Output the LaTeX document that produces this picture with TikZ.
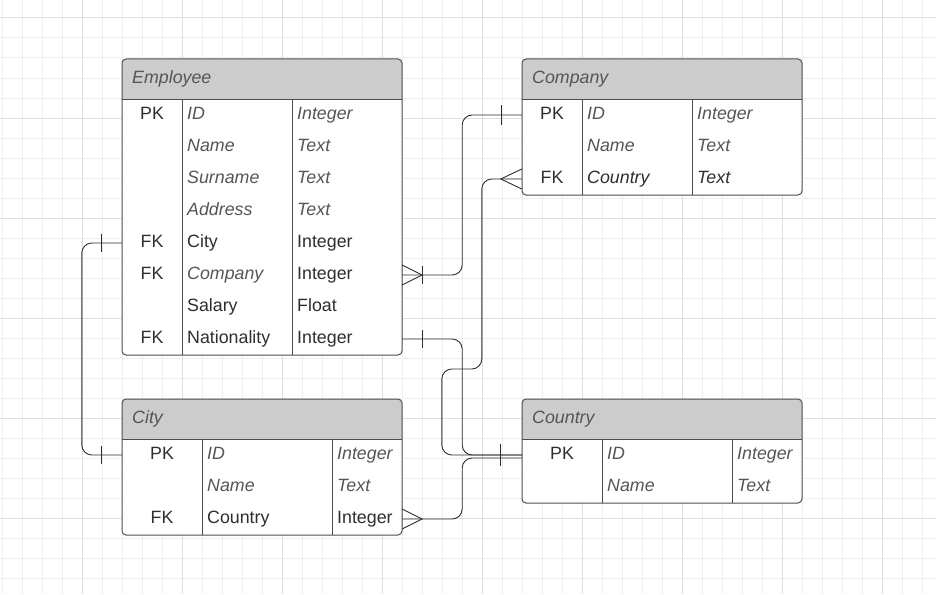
\documentclass[tikz,border=0pt]{standalone}
\usepackage{fontspec}
\setmainfont{Liberation Sans}
\usetikzlibrary{calc}

\definecolor{gridminor}{HTML}{EEEEEE}
\definecolor{gridmajor}{HTML}{DEDEDE}
\definecolor{hdrgray}{HTML}{CCCCCC}
\definecolor{boxgray}{HTML}{4D4D4D}
\definecolor{txtdark}{HTML}{2E2E2E}
\definecolor{txtgray}{HTML}{555555}

\newcommand\cellfont{\fontsize{17.8}{21}\selectfont}
\newcommand\ita[1]{\textcolor{txtgray}{\itshape #1}}
\newcommand\itd[1]{{\itshape #1}}

% one entity table: name, x, y, rows, divider 1, divider 2, title, rows
\newcommand\erdtable[8]{%
  \begin{scope}[shift={(#2,#3)}]
    \fill[white,rounded corners=4] (0,0) rectangle (280,{40+32*#4});
    \begin{scope}
      \clip[rounded corners=4] (0,0) rectangle (280,{40+32*#4});
      \fill[hdrgray] (0,0) rectangle (280,40);
    \end{scope}
    \draw[boxline,rounded corners=4] (0,0) rectangle (280,{40+32*#4});
    \draw[boxline] (0,40) -- (280,40) (#5,40) -- (#5,{40+32*#4}) (#6,40) -- (#6,{40+32*#4});
    \node[cell,anchor=base west,text=txtgray,font=\cellfont\itshape] (#1h) at (10,24.5) {#7};
    \foreach \k/\f/\t [count=\i] in {#8} {
      \node[rowbox] (#1\i) at (140,{24+32*\i}) {};
      \node[cell,anchor=base] (#1k\i) at ({#5/2},{28.5+32*\i}) {\k};
      \node[cell,anchor=base west] (#1f\i) at ({#5+5},{28.5+32*\i}) {\f};
      \node[cell,anchor=base west] (#1t\i) at ({#6+5},{28.5+32*\i}) {\t};
    }
  \end{scope}}

% cardinality marks
\newcommand\onebar[3]{\draw[conn] ($(#1)+(#2,-#3)$) -- ($(#1)+(#2,#3)$);}
\newcommand\crowfoot[2]{\draw[conn] ($(#1)+(0,-10)$) -- ($(#1)+(#2,0)$) -- ($(#1)+(0,10)$);}

\begin{document}
\begin{tikzpicture}[x=1pt,y=-1pt,
    boxline/.style={draw=boxgray,line width=1pt},
    conn/.style={draw=txtdark,line width=0.9pt},
    link/.style={conn,rounded corners=10},
    cell/.style={inner sep=0pt,text=txtdark,font=\cellfont},
    rowbox/.style={minimum width=280pt,minimum height=32pt,inner sep=0pt}]
  \useasboundingbox (0,0) rectangle (936,594);
  \fill[white] (0,0) rectangle (936,594);
  % canvas grid
  \foreach \x in {2,22,...,922} \draw[gridminor,line width=1pt] (\x,0) -- (\x,594);
  \foreach \y in {18,38,...,578} \draw[gridminor,line width=1pt] (0,\y) -- (936,\y);
  \foreach \x in {82,182,...,882} \draw[gridmajor,line width=1pt] (\x,0) -- (\x,594);
  \foreach \y in {18,118,...,518} \draw[gridmajor,line width=1pt] (0,\y) -- (936,\y);

  % tables
  \erdtable{emp}{122}{59}{8}{60}{170}{Employee}{%
    PK/\ita{ID}/\ita{Integer}, /\ita{Name}/\ita{Text}, /\ita{Surname}/\ita{Text},
    /\ita{Address}/\ita{Text}, FK/City/Integer, FK/\ita{Company}/Integer,
    /Salary/Float, FK/Nationality/Integer}
  \erdtable{comp}{522}{59}{3}{60}{170}{Company}{%
    PK/\ita{ID}/\ita{Integer}, /\ita{Name}/\ita{Text}, FK/\itd{Country}/\itd{Text}}
  \erdtable{city}{122}{399}{3}{80}{210}{City}{%
    PK/\ita{ID}/\ita{Integer}, /\ita{Name}/\ita{Text}, FK/Country/Integer}
  \erdtable{ctry}{522}{399}{2}{80}{210}{Country}{%
    PK/\ita{ID}/\ita{Integer}, /\ita{Name}/\ita{Text}}

  % relations
  \draw[link] (emp5.west) -- ++(-40,0) |- (city1.west);
  \onebar{emp5.west}{-20}{9}
  \onebar{city1.west}{-20}{9}
  \draw[link] (emp6.east) -- ++(60,0) |- (comp1.west);
  \crowfoot{emp6.east}{20}
  \onebar{emp6.east}{20}{9}
  \onebar{comp1.west}{-20}{10}
  \draw[link] (comp3.west) -- ++(-40,0) -- ++(0,190) -- ++(-40,0) |- (ctry1.west);
  \crowfoot{comp3.west}{-21}
  \draw[link] (emp8.east) -- ++(60,0) |- (ctry1.west);
  \onebar{emp8.east}{20}{9}
  \draw[link] (city3.east) -- ++(60,0) |- ($(ctry1.west)+(0,3)$);
  \crowfoot{city3.east}{20}
  \onebar{ctry1.west}{-21}{11}
\end{tikzpicture}
\end{document}
